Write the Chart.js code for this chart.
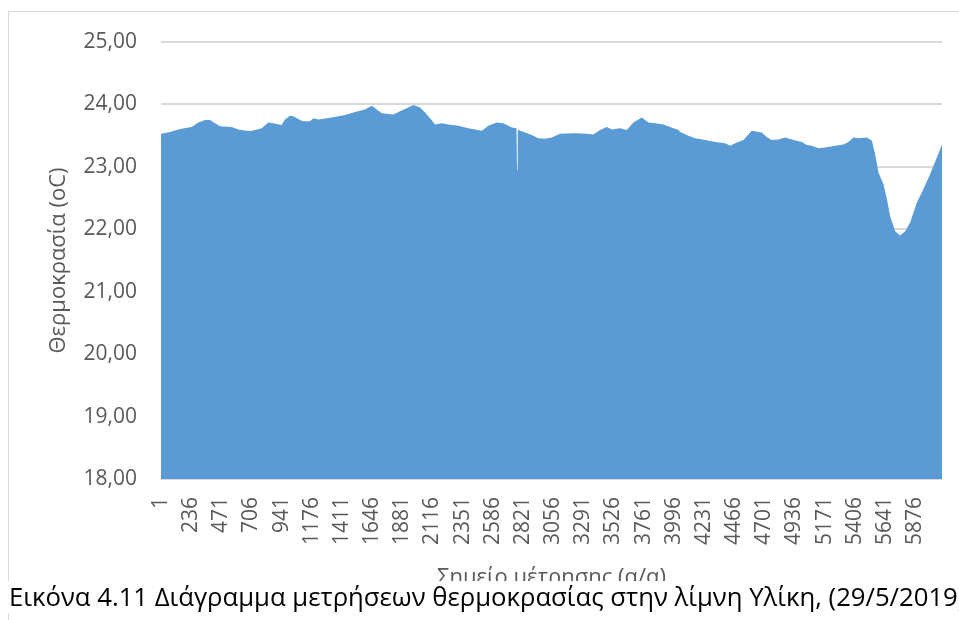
<!DOCTYPE html>
<html>
<head>
<meta charset="utf-8">
<script src="https://cdn.jsdelivr.net/npm/chart.js@4"></script>
<style>
  body { margin: 0; background: #fff; width: 959px; height: 620px; overflow: hidden; position: relative; }
  #frame { position: absolute; left: 8px; top: 11px; width: 1000px; height: 700px; border: 1px solid #d9d9d9; }
  #canvas { position: absolute; left: 0; top: 0; }
  #caption { position: absolute; left: 0; top: 581px; width: 1100px; height: 32px; background: #fff;
             font-family: "Open Sans", sans-serif; font-size: 25.7px; color: #000; white-space: nowrap; line-height: 32px; }
  #caption span { margin-left: 9px; }
</style>
</head>
<body>
<div id="frame"><canvas id="canvas" width="960" height="600"></canvas></div>
<div id="caption"><span>Εικόνα 4.11 Διάγραμμα μετρήσεων θερμοκρασίας στην λίμνη Υλίκη, (29/5/2019)</span></div>
<script>
// sample number (α/α) and temperature
var sampleNo = [1, 71, 123, 162, 240, 292, 344, 383, 422, 461, 552, 603, 694, 733, 786, 837, 876, 941, 967, 1006,
  1032, 1084, 1110, 1162, 1188, 1227, 1331, 1435, 1513, 1590, 1643, 1682, 1721, 1811, 1863, 1915, 1967, 2019, 2058, 2097,
  2136, 2188, 2240, 2317, 2395, 2448, 2500, 2551, 2617, 2668, 2734, 2770, 2775, 2780, 2798, 2837, 2889, 2941, 2993, 3045,
  3110, 3227, 3318, 3369, 3421, 3474, 3513, 3577, 3629, 3681, 3746, 3798, 3850, 3915, 3967, 4032, 4045, 4110, 4162, 4240,
  4318, 4396, 4435, 4487, 4538, 4577, 4603, 4681, 4720, 4759, 4811, 4863, 4928, 4993, 5032, 5071, 5123, 5174, 5252, 5317,
  5356, 5395, 5434, 5500, 5539, 5564, 5590, 5629, 5656, 5681, 5720, 5759, 5798, 5837, 5889, 5940, 5992, 6045, 6085];
var tempC = [23.53, 23.56, 23.59, 23.61, 23.64, 23.71, 23.75, 23.75, 23.70, 23.65, 23.64, 23.60, 23.57, 23.59, 23.62, 23.71, 23.70, 23.67, 23.76, 23.82,
  23.81, 23.75, 23.73, 23.73, 23.78, 23.76, 23.79, 23.83, 23.88, 23.92, 23.98, 23.92, 23.86, 23.84, 23.89, 23.94, 23.99, 23.95, 23.87, 23.78,
  23.68, 23.70, 23.68, 23.66, 23.62, 23.60, 23.58, 23.66, 23.71, 23.70, 23.63, 23.62, 22.95, 23.60, 23.58, 23.55, 23.51, 23.46, 23.45, 23.47,
  23.53, 23.54, 23.53, 23.52, 23.59, 23.64, 23.60, 23.62, 23.59, 23.71, 23.79, 23.71, 23.70, 23.68, 23.64, 23.59, 23.56, 23.50, 23.46, 23.43,
  23.40, 23.38, 23.34, 23.39, 23.43, 23.52, 23.58, 23.55, 23.48, 23.43, 23.44, 23.47, 23.43, 23.40, 23.35, 23.34, 23.30, 23.31, 23.34, 23.36,
  23.40, 23.47, 23.46, 23.47, 23.42, 23.20, 22.91, 22.72, 22.48, 22.21, 21.97, 21.90, 21.97, 22.11, 22.43, 22.64, 22.88, 23.15, 23.36];
var xTickLabels = [1, 236, 471, 706, 941, 1176, 1411, 1646, 1881, 2116, 2351, 2586, 2821, 3056, 3291, 3526, 3761, 3996,
  4231, 4466, 4701, 4936, 5171, 5406, 5641, 5876];
var yMin = 18, yMax = 25;
var lastSample = 6085;

var points = sampleNo.map(function(n, i){
  return {x: n, y: tempC[i]};
});

var tickFont = {family: "'Open Sans', sans-serif", size: 21};
var titleFont = {family: "'Open Sans', sans-serif", size: 22};

const ctx = document.getElementById('canvas');
const myChart = new Chart(ctx, {
  type: 'line',
  data: {
    datasets: [{
      label: 'Θερμοκρασία',
      data: points,
      fill: 'start',
      backgroundColor: '#5b9bd5',
      borderColor: '#5b9bd5',
      borderWidth: 0,
      pointRadius: 0,
      tension: 0
    }]
  },
  options: {
    responsive: false,
    devicePixelRatio: 1,
    animation: false,
    layout: { padding: { top: 30, right: 27, bottom: 0, left: 0 } },
    plugins: { legend: { display: false }, tooltip: { enabled: false } },
    scales: {
      x: {
        type: 'linear',
        min: 1,
        max: lastSample,
        afterBuildTicks: function(scale){
          scale.ticks = xTickLabels.map(function(v){ return {value: v}; });
        },
        afterFit: function(scale){ scale.height = 133; },
        grid: { display: false, drawTicks: false },
        border: { display: false },
        ticks: {
          autoSkip: false,
          minRotation: 90,
          maxRotation: 90,
          padding: 18,
          color: '#595959',
          font: tickFont,
          callback: function(v){ return String(v); }
        },
        title: {
          display: true,
          text: 'Σημείο μέτρησης (α/α)',
          color: '#595959',
          font: titleFont,
          padding: { top: 0, bottom: 21 }
        }
      },
      y: {
        min: yMin,
        max: yMax,
        afterFit: function(scale){ scale.width = 152; },
        // invisible tick marks make the gap between labels and plot
        grid: { color: '#d9d9d9', lineWidth: 2, drawTicks: true, tickLength: 24, tickColor: 'rgba(0,0,0,0)' },
        border: { display: false },
        ticks: {
          stepSize: 1,
          padding: 0,
          color: '#595959',
          font: tickFont,
          callback: function(v){ return v.toFixed(2).replace('.', ','); }
        },
        title: {
          display: true,
          text: 'Θερμοκρασία (oC)',
          color: '#595959',
          font: titleFont,
          padding: { top: 37, bottom: 0 }
        }
      }
    }
  }
});
</script>
</body>
</html>
